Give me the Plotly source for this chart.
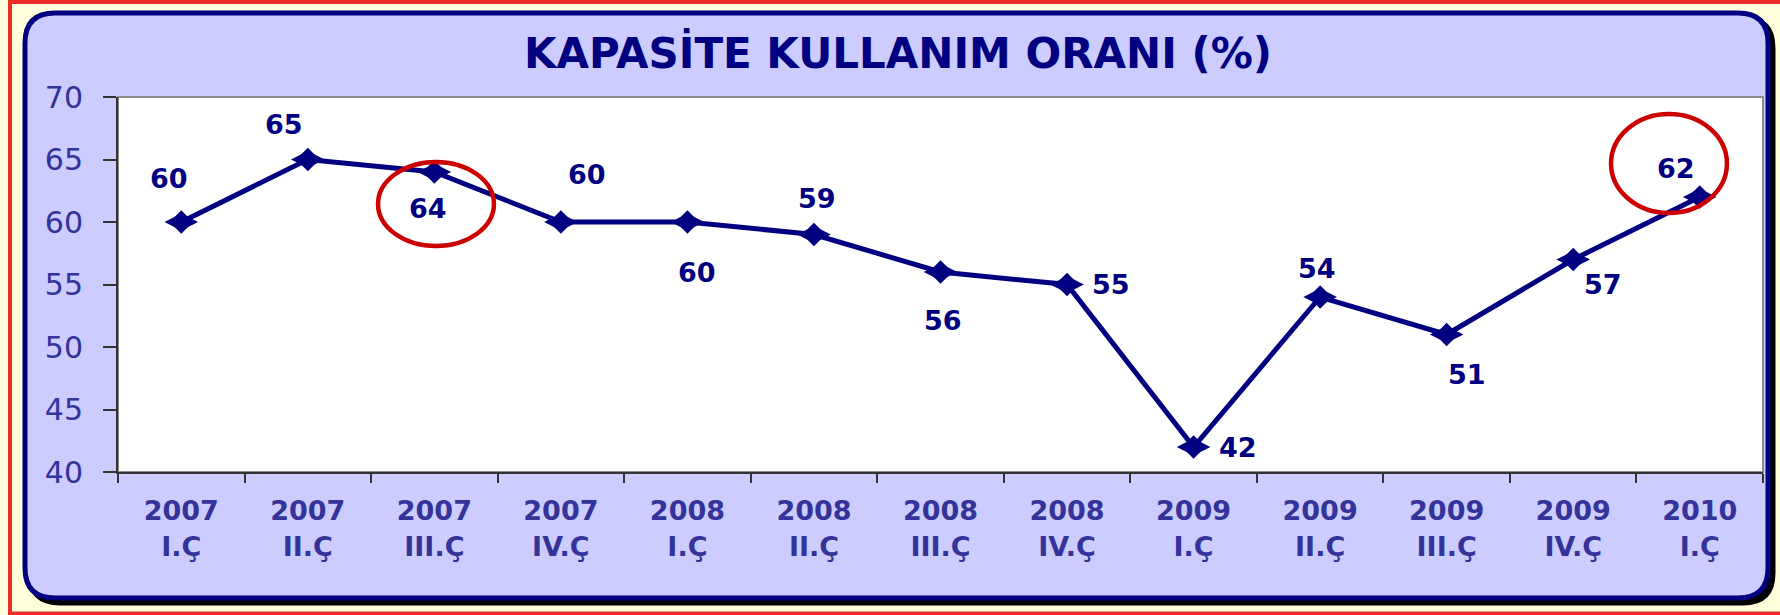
import plotly.graph_objects as go

# ---------------- data ----------------
years = ["2007", "2007", "2007", "2007", "2008", "2008", "2008", "2008",
         "2009", "2009", "2009", "2009", "2010"]
quarters = ["I.Ç", "II.Ç", "III.Ç", "IV.Ç", "I.Ç", "II.Ç", "III.Ç", "IV.Ç",
            "I.Ç", "II.Ç", "III.Ç", "IV.Ç", "I.Ç"]
values = [60, 65, 64, 60, 60, 59, 56, 55, 42, 54, 51, 57, 62]
title_text = "KAPASİTE KULLANIM ORANI (%)"
y_ticks = [40, 45, 50, 55, 60, 65, 70]

# label offsets (pixels, dx right, dy down) relative to each point
label_offsets = [(-12, -44), (-24, -35), (-6, 36), (26, -48), (10, 50), (3, -36),
                 (2, 48), (44, 0), (44, 0), (-3, -29), (20, 40), (30, 25), (-24, -29)]
# highlighted points: (index, dx in category units, dy in value units, rx, ry)
highlights = [(2, 0.013, -2.56, 0.458, 3.36), (12, -0.243, 2.68, 0.458, 3.96)]

categories = [f"{y}<br>{q}" for y, q in zip(years, quarters)]

# ---------------- layout geometry (pixels) ----------------
FW, FH = 1780, 615
L, T, R, B = 118, 97, 1763, 472
W, H = R - L, B - T


def px(x):
    return (x - L) / W


def py(y):
    return (B - y) / H


def rounded_path(x0, y0, x1, y1, r):
    pts = []
    pts.append(f"M{px(x0 + r)},{py(y0)}")
    pts.append(f"L{px(x1 - r)},{py(y0)}")
    pts.append(f"Q{px(x1)},{py(y0)} {px(x1)},{py(y0 + r)}")
    pts.append(f"L{px(x1)},{py(y1 - r)}")
    pts.append(f"Q{px(x1)},{py(y1)} {px(x1 - r)},{py(y1)}")
    pts.append(f"L{px(x0 + r)},{py(y1)}")
    pts.append(f"Q{px(x0)},{py(y1)} {px(x0)},{py(y1 - r)}")
    pts.append(f"L{px(x0)},{py(y0 + r)}")
    pts.append(f"Q{px(x0)},{py(y0)} {px(x0 + r)},{py(y0)}")
    pts.append("Z")
    return " ".join(pts)


NAVY = "#000080"
LABEL = "#333399"
FONT = "DejaVu Sans"

fig = go.Figure()
fig.add_trace(go.Scatter(x=categories, y=values, mode="lines",
                         line=dict(color=NAVY, width=5), hoverinfo="skip"))
fig.add_trace(go.Scatter(x=categories, y=values, mode="markers",
                         marker=dict(symbol="diamond", size=18, color=NAVY), hoverinfo="skip"))
fig.add_trace(go.Scatter(x=categories, y=values, mode="markers",
                         marker=dict(symbol="diamond-wide", size=24, color=NAVY)))

shapes = [
    # outer red frame (right edge falls outside the canvas)
    dict(type="rect", xref="paper", yref="paper", layer="below",
         x0=px(10), x1=px(1850), y0=py(2), y1=py(613.5),
         line=dict(color="#EE2B2B", width=4), fillcolor="rgba(0,0,0,0)"),
    # shadow
    dict(type="path", xref="paper", yref="paper", layer="below",
         path=rounded_path(30, 18, 1773, 603, 30),
         fillcolor="#000000", line=dict(color="#000000", width=5)),
    # lavender panel
    dict(type="path", xref="paper", yref="paper", layer="below",
         path=rounded_path(25, 13, 1768, 598, 30),
         fillcolor="#CCCCFF", line=dict(color=NAVY, width=5)),
    # plot area
    dict(type="rect", xref="paper", yref="paper", layer="below",
         x0=0, x1=1, y0=0, y1=1, fillcolor="white",
         line=dict(color="#8C8C8C", width=2)),
]

for idx, dx, dy, rx, ry in highlights:
    cx, cy = idx + dx, values[idx] + dy
    shapes.append(dict(type="circle", xref="x", yref="y", layer="above",
                       x0=cx - rx, x1=cx + rx, y0=cy - ry, y1=cy + ry,
                       line=dict(color="#CC0000", width=4.5)))

annotations = []
for i, (v, (dx, dy)) in enumerate(zip(values, label_offsets)):
    annotations.append(dict(x=i, y=v, xref="x", yref="y", text=str(v),
                            showarrow=False, xanchor="center", yanchor="middle",
                            xshift=dx, yshift=-dy,
                            font=dict(family=FONT, size=27, color=NAVY, weight="bold")))

fig.update_layout(
    width=FW, height=FH,
    margin=dict(l=L, r=FW - R, t=T, b=FH - B, pad=0),
    paper_bgcolor="#FFFFDC", plot_bgcolor="white",
    showlegend=False,
    title=dict(text=title_text, x=898 / FW, xanchor="center",
               y=1 - 53 / FH, yanchor="middle", yref="container",
               font=dict(family=FONT, size=42, color=NAVY, weight="bold")),
    shapes=shapes, annotations=annotations,
    xaxis=dict(type="category", range=[-0.5, 12.5], tickson="boundaries",
               ticks="outside", ticklen=9, tickwidth=1.5, tickcolor="#333333",
               showline=True, linecolor="#333333", linewidth=2,
               showgrid=False, zeroline=False, automargin=False,
               ticklabelstandoff=14,
               tickfont=dict(family=FONT, size=27, color=LABEL, weight="bold")),
    yaxis=dict(range=[40, 70], tickvals=y_ticks, ticks="outside", ticklen=13,
               tickwidth=1.5, tickcolor="#333333",
               showline=True, linecolor="#333333", linewidth=2,
               showgrid=False, zeroline=False, automargin=False,
               ticklabelstandoff=14,
               tickfont=dict(family=FONT, size=30, color=LABEL)),
)

fig.write_html("out.html",
               config={"displayModeBar": False},
               post_script="document.body.style.margin='0';"
                           "document.body.style.overflow='hidden';")
